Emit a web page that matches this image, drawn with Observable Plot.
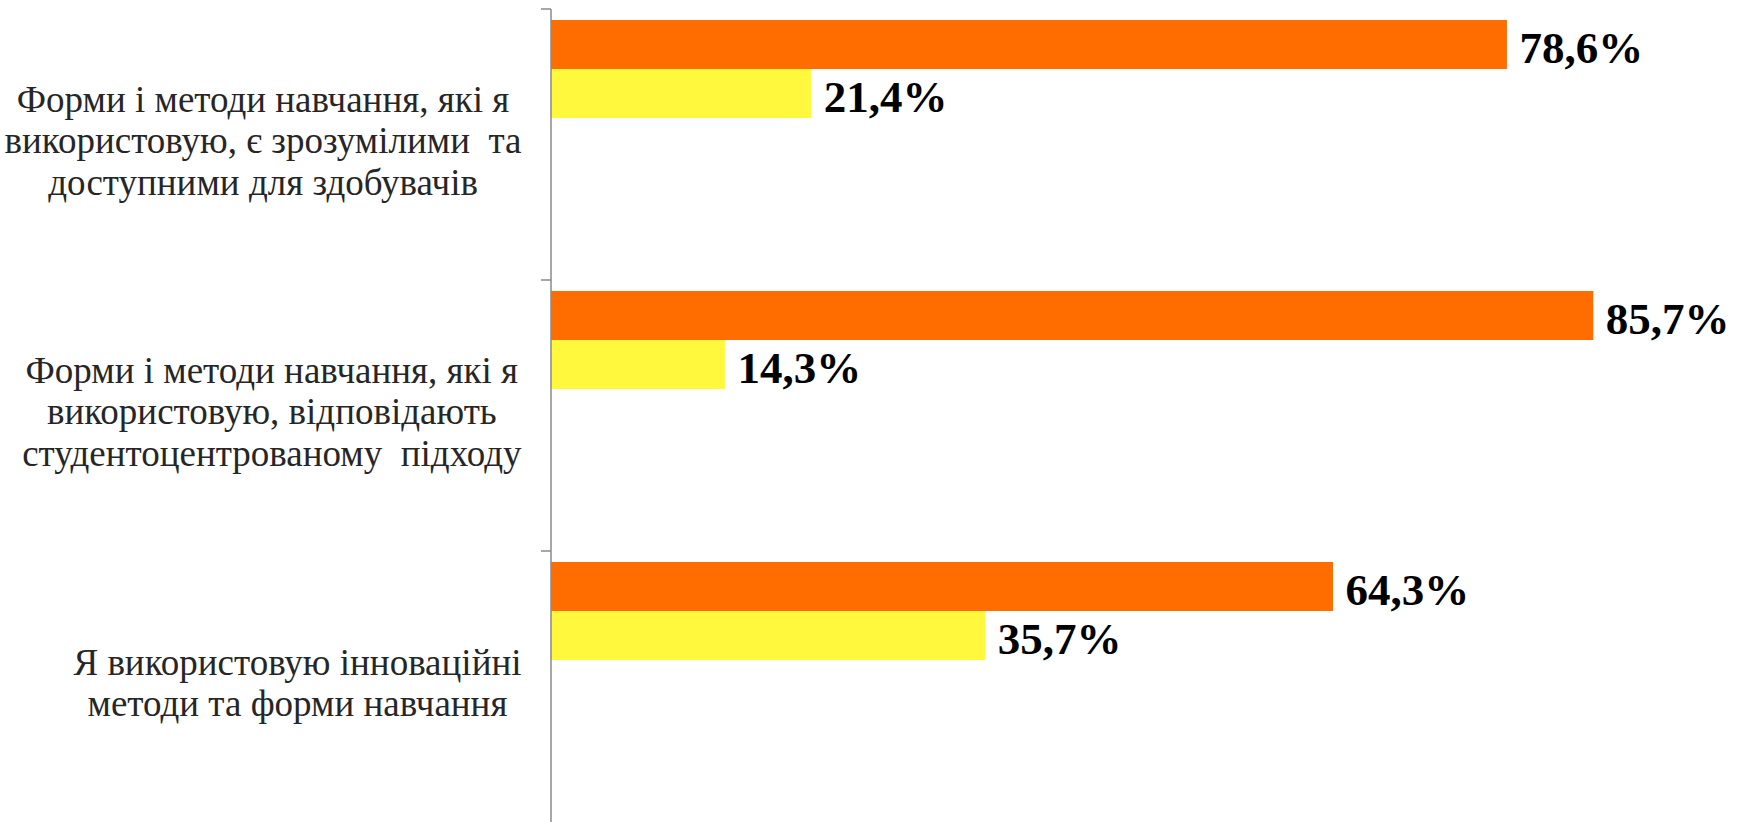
<!DOCTYPE html>
<html>
<head>
<meta charset="utf-8">
<script src="https://cdn.jsdelivr.net/npm/d3@7"></script>
<script src="https://cdn.jsdelivr.net/npm/@observablehq/plot@0.6"></script>
<style>
  html, body { margin: 0; padding: 0; background: #fff; }
  #chart svg { display: block; }
  #chart tspan, #chart text { white-space: pre; }
</style>
</head>
<body>
<div id="chart"></div>
<script>
// ---- data ----
const categories = [
  "Форми і методи навчання, які я\nвикористовую, є зрозумілими  та\nдоступними для здобувачів",
  "Форми і методи навчання, які я\nвикористовую, відповідають\nстудентоцентрованому  підходу",
  "Я використовую інноваційні\nметоди та форми навчання"
];
const seriesNames = ["Так", "Ні"];
const yesValues = [78.6, 85.7, 64.3];
const noValues = [21.4, 14.3, 35.7];
const seriesColors = ["#FF6C00", "#FFF83C"];

// ---- style ----
const labelFont = '"Liberation Serif", "Times New Roman", serif';
const catFontSize = 37;
const valFontSize = 45;
const axisColor = "#8a8a8a";
const tickLen = 10;
const labelGap = 30;

const rows = categories.flatMap((c, i) => [
  {category: c, series: seriesNames[0], value: yesValues[i]},
  {category: c, series: seriesNames[1], value: noValues[i]}
]);

const fmt = v => d3.format(".1f")(v).replace(".", ",") + "%";

// measure label blocks for centered lines in right-aligned block
const ctx = document.createElement("canvas").getContext("2d");
ctx.font = `${catFontSize}px ${labelFont}`;
const blockWidth = c => d3.max(c.split("\n"), l => ctx.measureText(l).width);

function axisAndTicks(index, scales, values, dimensions) {
  const x0 = scales.x(0);
  const top = dimensions.marginTop;
  const bottom = dimensions.height - dimensions.marginBottom;
  const g = d3.create("svg:g").attr("stroke", axisColor).attr("stroke-width", 1.5);
  g.append("line").attr("x1", x0).attr("x2", x0).attr("y1", top).attr("y2", bottom);
  g.append("line").attr("x1", x0 - tickLen).attr("x2", x0).attr("y1", top).attr("y2", top);
  return g.node();
}

const chart = Plot.plot({
  width: 1738,
  height: 822,
  marginLeft: 551,
  marginRight: 0,
  marginTop: 9,
  marginBottom: 0,
  style: {background: "#fff"},
  x: {domain: [0, 97.6], axis: null},
  fy: {domain: categories, padding: 0, axis: null},
  y: {domain: seriesNames, paddingInner: 0, paddingOuter: 1.737, align: 0.064, axis: null},
  color: {domain: seriesNames, range: seriesColors},
  marks: [
    Plot.barX(rows, {x: "value", y: "series", fy: "category", fill: "series"}),
    Plot.text(rows, {
      x: "value", y: "series", fy: "category", text: d => fmt(d.value),
      textAnchor: "start", dx: 12, dy: 4, fontWeight: "bold", fontSize: valFontSize,
      fontFamily: labelFont, fill: "#000"
    }),
    ...categories.map(c => Plot.text([c], {
      fy: d => d, text: d => d, frameAnchor: "left", textAnchor: "middle",
      dx: -labelGap - blockWidth(c) / 2, dy: -5, lineHeight: 1.12, lineAnchor: "middle",
      fontSize: catFontSize, fontFamily: labelFont, fill: "#262626"
    })),
    axisAndTicks
  ]
});

document.getElementById("chart").appendChild(chart);
</script>
</body>
</html>
